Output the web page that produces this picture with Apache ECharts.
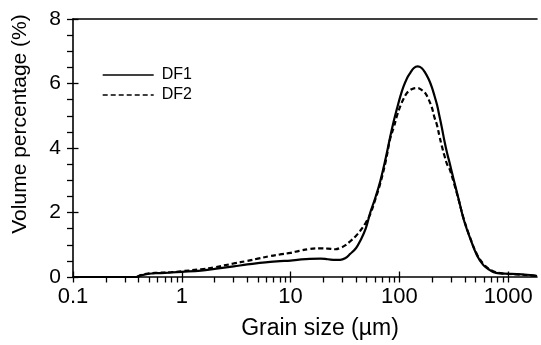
<!DOCTYPE html>
<html>
<head>
<meta charset="utf-8">
<script src="https://cdn.jsdelivr.net/npm/echarts@6/dist/echarts.min.js"></script>
<style>html,body{margin:0;padding:0;background:#fff}#c{width:541px;height:345px}</style>
</head>
<body>
<div id="c"></div>
<script>
// Grain sizes (µm)
var sizes = [0.1, 0.2, 0.3, 0.38, 0.42, 0.5, 0.6, 0.8, 1, 1.5, 2, 3, 4, 5, 6.5, 8, 10, 12, 15, 18.8, 22, 25.8, 28.5, 31.7, 35.4, 40, 43.8, 49, 54, 60, 66.7, 75, 82.4, 89, 95, 102, 109, 117, 126, 136, 147, 160, 173, 186, 199, 210, 222, 234, 246, 260, 274, 289, 315, 350, 389, 449, 517, 594, 660, 735, 850, 975, 1200, 1490, 1700, 1840];
var df1 = [0, 0, 0, 0, 0.05, 0.1, 0.12, 0.14, 0.16, 0.2, 0.25, 0.33, 0.39, 0.43, 0.47, 0.49, 0.51, 0.54, 0.565, 0.57, 0.55, 0.53, 0.53, 0.58, 0.72, 0.9, 1.13, 1.5, 2.0, 2.45, 2.97, 3.7, 4.35, 4.85, 5.22, 5.6, 5.9, 6.15, 6.33, 6.48, 6.53, 6.48, 6.33, 6.13, 5.88, 5.62, 5.33, 4.97, 4.62, 4.2, 3.85, 3.55, 3.03, 2.42, 1.80, 1.18, 0.67, 0.36, 0.24, 0.15, 0.11, 0.10, 0.09, 0.07, 0.05, 0.03];
var df2 = [0, 0, 0, 0, 0.06, 0.11, 0.13, 0.15, 0.18, 0.24, 0.3, 0.42, 0.5, 0.57, 0.65, 0.7, 0.75, 0.81, 0.87, 0.89, 0.88, 0.86, 0.9, 0.98, 1.11, 1.28, 1.44, 1.68, 1.95, 2.4, 2.9, 3.6, 4.3, 4.65, 5.0, 5.3, 5.52, 5.7, 5.8, 5.85, 5.86, 5.8, 5.7, 5.5, 5.25, 4.95, 4.7, 4.35, 4.05, 3.75, 3.5, 3.35, 2.95, 2.4, 1.82, 1.2, 0.7, 0.4, 0.26, 0.17, 0.12, 0.10, 0.08, 0.06, 0.04, 0.03];
var xMajorTicks = [0.1, 1, 10, 100, 1000];
var xMinorTicks = [];
[0.1, 1, 10, 100, 1000].forEach(function (d) {
  for (var k = 2; k <= 9; k++) { var v = +(d * k).toPrecision(3); if (v <= 1840) xMinorTicks.push(v); }
});
var xAllTicks = xMajorTicks.concat(xMinorTicks);
var yTickLabels = ['0', '2', '4', '6', '8'];

function pairs(ys) { return sizes.map(function (s, i) { return [s, ys[i]]; }); }

var font = 'Liberation Sans, Arial, sans-serif';
var chart = echarts.init(document.getElementById('c'), null, {renderer: 'canvas'});
chart.setOption({
  animation: false,
  backgroundColor: '#fff',
  grid: {left: 73, right: 4, top: 19, bottom: 67, containLabel: false},
  legend: {
    orient: 'vertical', left: 102, top: 67,
    itemWidth: 51, itemHeight: 14, itemGap: 4, padding: 0,
    textStyle: {fontFamily: font, fontSize: 16, color: '#000', padding: [0, 0, 0, 3]},
    itemStyle: {opacity: 0},
    lineStyle: {width: 1.4},
    data: ['DF1', 'DF2']
  },
  xAxis: [
    {type: 'log', logBase: 10, min: 0.1, max: 1840, position: 'bottom',
      name: 'Grain size (µm)', nameLocation: 'middle', nameGap: 40,
      nameTextStyle: {fontFamily: font, fontSize: 23, color: '#000', padding: [0, 0, 0, 30]},
      axisLine: {show: true, onZero: false, lineStyle: {color: '#000', width: 1.6}},
      axisTick: {show: true, inside: false, length: 5.5, customValues: xAllTicks, lineStyle: {color: '#000', width: 1.3}},
      axisLabel: {show: true, margin: 9, customValues: xMajorTicks, fontFamily: font, fontSize: 22, color: '#000',
        formatter: function (v) { return String(v); }},
      splitLine: {show: false}, minorTick: {show: false}},
    {type: 'log', logBase: 10, min: 0.1, max: 1840, position: 'bottom',
      axisLine: {show: false, onZero: false},
      axisTick: {show: true, inside: true, length: 5.5, customValues: xMajorTicks, lineStyle: {color: '#000', width: 1.3}},
      axisLabel: {show: false}, splitLine: {show: false}},
    {type: 'value', min: 0, max: 1, position: 'top',
      axisLine: {show: true, onZero: false, lineStyle: {color: '#000', width: 1.6}},
      axisTick: {show: false}, axisLabel: {show: false}, splitLine: {show: false}}
  ],
  yAxis: [
    {type: 'value', min: 0, max: 8, interval: 0.5, position: 'left',
      name: 'Volume percentage (%)', nameLocation: 'middle', nameGap: 42,
      nameTextStyle: {fontFamily: font, fontSize: 21, color: '#000', padding: [0, 0, 0, 48]},
      axisLine: {show: true, onZero: false, lineStyle: {color: '#000', width: 1.6}},
      axisTick: {show: true, inside: false, length: 6, lineStyle: {color: '#000', width: 1.3}},
      axisLabel: {show: true, margin: 12, fontFamily: font, fontSize: 21, color: '#000',
        formatter: function (v) { var i = yTickLabels.indexOf(String(v)); return i >= 0 ? yTickLabels[i] : ''; }},
      splitLine: {show: false}},
    {type: 'value', min: 0, max: 8, interval: 2, position: 'left',
      axisLine: {show: false, onZero: false},
      axisTick: {show: true, inside: true, length: 5.5, lineStyle: {color: '#000', width: 1.3}},
      axisLabel: {show: false}, splitLine: {show: false}}
  ],
  series: [
    {name: 'DF1', type: 'line', xAxisIndex: 0, yAxisIndex: 0, data: pairs(df1), smooth: 0.4,
      symbol: 'none', lineStyle: {color: '#000', width: 2.2, type: 'solid'}, itemStyle: {color: '#000'}},
    {name: 'DF2', type: 'line', xAxisIndex: 0, yAxisIndex: 0, data: pairs(df2), smooth: 0.4,
      symbol: 'none', lineStyle: {color: '#000', width: 2.2, type: [5, 3]}, itemStyle: {color: '#000'}}
  ]
});
</script>
</body>
</html>
